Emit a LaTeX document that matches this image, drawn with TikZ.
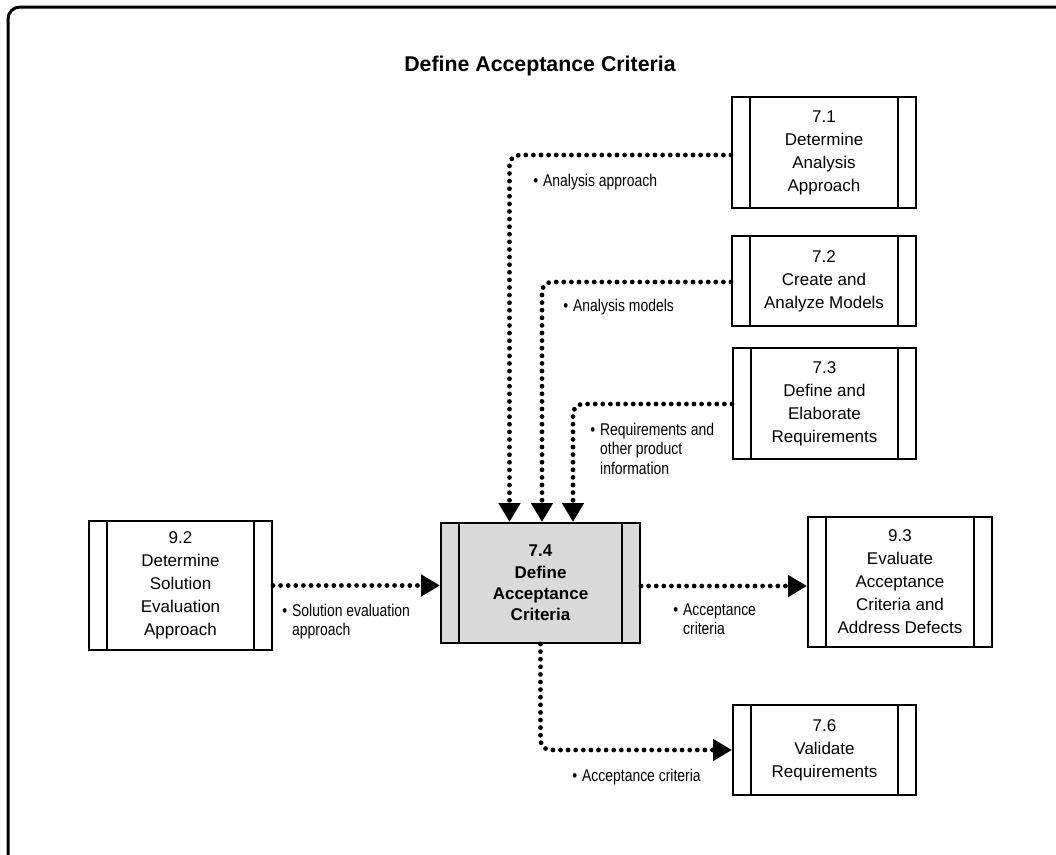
\documentclass[tikz,border=0pt]{standalone}
\usepackage{fontspec}
\setmainfont{Liberation Sans}
\newfontfamily\condfont[FakeStretch=0.82]{Liberation Sans}
\usepackage{tikz}
\usetikzlibrary{calc,arrows.meta,positioning}
\definecolor{keyfill}{RGB}{218,218,218}
\newcommand{\ind}{\phantom{\textbullet}\hspace{3.75pt}}

\begin{document}
\begin{tikzpicture}[x=0.75pt, y=-0.75pt,
  proc/.style={draw, line width=1.5pt, inner sep=0pt, align=center,
    font=\fontsize{12.75pt}{17.25pt}\selectfont,
    path picture={
      \draw[line width=1.1pt] ([xshift=13.5pt]path picture bounding box.north west) -- ([xshift=13.5pt]path picture bounding box.south west);
      \draw[line width=1.1pt] ([xshift=-13.5pt]path picture bounding box.north east) -- ([xshift=-13.5pt]path picture bounding box.south east);
    }},
  keyproc/.style={proc, fill=keyfill, font=\bfseries\fontsize{12.75pt}{16pt}\selectfont},
  flow/.style={line width=3.6pt, line cap=round, dash pattern=on 0pt off 5.7pt,
    rounded corners=7.5pt, -{Triangle[length=14.25pt, width=15.75pt]}},
  lbl/.style={anchor=north west, align=left, inner sep=0pt,
    font=\condfont\fontsize{12.75pt}{14.6pt}\selectfont}]
  \useasboundingbox (0,0) rectangle (1056,854);
  \clip (0,0) rectangle (1056,854);
  \draw[line width=2.25pt, rounded corners=9pt] (8,7) rectangle (1075,875);

  \node[font=\bfseries\fontsize{16pt}{19pt}\selectfont] (title) at (540,66) {Define Acceptance Criteria};

  % process boxes
  \node[proc, minimum width=138pt, minimum height=83.25pt] (p71) at (824,152.5) {7.1\\Determine\\Analysis\\Approach};
  \node[proc, minimum width=138pt, minimum height=67.5pt] (p72) at (824,281) {7.2\\Create and\\Analyze Models};
  \node[proc, minimum width=137.25pt, minimum height=83.25pt] (p73) at (824.5,403.5) {7.3\\Define and\\Elaborate\\Requirements};
  \node[keyproc, minimum width=149.25pt, minimum height=90pt] (p74) at (540.5,583) {7.4\\Define\\Acceptance\\Criteria};
  \node[proc, minimum width=137.25pt, minimum height=96.75pt] (p92) at (180.5,585.5) {9.2\\Determine\\Solution\\Evaluation\\Approach};
  \node[proc, minimum width=138pt, minimum height=97.5pt] (p93) at (900,582) {9.3\\Evaluate\\Acceptance\\Criteria and\\Address Defects};
  \node[proc, minimum width=137.25pt, minimum height=67.5pt] (p76) at (824.5,750) {7.6\\Validate\\Requirements};

  % inputs and outputs
  \draw[flow] ($(p71.west)+(0,2.5)$) -| ($(p74.north)+(-31,0)$);
  \draw[flow] ($(p72.west)+(0,1)$) -| ($(p74.north)+(1.5,0)$);
  \draw[flow] ($(p73.west)+(0,0.5)$) -| ($(p74.north)+(32.5,0)$);
  \draw[flow] (p92.east) -- (p92.east -| p74.west);
  \draw[flow] ($(p74.east)+(0,3)$) -- ($(p74.east -| p93.west)+(0,3)$);
  \draw[flow] (p74.south) |- (p76.west);

  \node[lbl] (l71) at (533,173.5) {\textbullet\hspace{3.75pt}Analysis approach};
  \node[lbl] (l72) at (563,298.5) {\textbullet\hspace{3.75pt}Analysis models};
  \node[lbl] (l73) at (590,422.5) {\textbullet\hspace{3.75pt}Requirements and\\\ind other product\\\ind information};
  \node[lbl] (l92) at (282,603.5) {\textbullet\hspace{3.75pt}Solution evaluation\\\ind approach};
  \node[lbl] (l93) at (673,603.5) {\textbullet\hspace{3.75pt}Acceptance\\\ind criteria};
  \node[lbl] (l76) at (572,768.5) {\textbullet\hspace{3.75pt}Acceptance criteria};
\end{tikzpicture}
\end{document}
